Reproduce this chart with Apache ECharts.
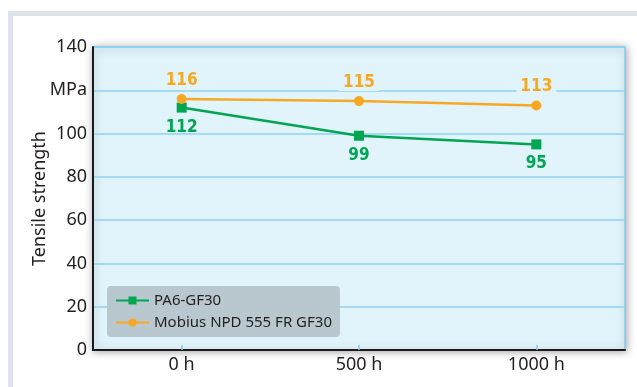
<!DOCTYPE html>
<html>
<head>
<meta charset="utf-8">
<script src="https://cdn.jsdelivr.net/npm/echarts@6/dist/echarts.min.js"></script>
<style>
  html, body { margin: 0; padding: 0; background: #fff; }
  #chart { width: 637px; height: 387px; }
</style>
</head>
<body>
<div id="chart"></div>
<script>
// Tensile strength after ageing, two compounds
const categories = ['0 h', '500 h', '1000 h'];
const pa6Values = [112, 99, 95];
const mobiusValues = [116, 115, 113];
const seriesNames = ['PA6-GF30', 'Mobius NPD 555 FR GF30'];
const yTicks = [0, 20, 40, 60, 80, 100, 120, 140];
const yUnitTick = 120; // this tick shows the unit instead of a number

const FONT = "'Noto Sans', 'DejaVu Sans', sans-serif";
const VALUE_FONT = "'Liberation Sans Narrow', 'DejaVu Sans Condensed', 'Roboto', sans-serif";
const PLOT_BG = '#e1f3fb';
const GREEN = '#00a551';
const ORANGE = '#f7a823';
const TEXT = '#231f20';

const chart = echarts.init(document.getElementById('chart'), null, { renderer: 'canvas' });

chart.setOption({
  animation: false,
  backgroundColor: '#ffffff',
  textStyle: { fontFamily: FONT },
  graphic: [{
    type: 'rect',
    z: -10,
    silent: true,
    shape: { x: 10.5, y: 13.5, width: 800, height: 600 },
    style: { fill: 'none', stroke: '#dde3e8', lineWidth: 5 }
  }],
  grid: {
    left: 93, right: 12, top: 47, bottom: 37,
    show: true,
    backgroundColor: PLOT_BG,
    borderColor: '#7fcdee',
    borderWidth: 1.5,
    shadowBlur: 8,
    shadowColor: 'rgba(0,0,0,0.35)',
    shadowOffsetX: 1,
    shadowOffsetY: 1
  },
  legend: {
    orient: 'vertical',
    left: 107,
    top: 286,
    backgroundColor: '#b9c7cf',
    borderRadius: 4,
    padding: [7, 8, 7, 8],
    itemGap: 7,
    itemWidth: 33,
    itemHeight: 10,
    data: seriesNames,
    textStyle: { fontFamily: FONT, fontSize: 15, color: TEXT }
  },
  xAxis: {
    type: 'category',
    data: categories,
    boundaryGap: true,
    axisLine: { lineStyle: { color: '#1a1a1a', width: 2 } },
    axisTick: { show: true, inside: true, alignWithLabel: true, length: 5,
                lineStyle: { color: '#7fcdee', width: 1.5 } },
    axisLabel: { fontFamily: FONT, fontSize: 18, color: TEXT, margin: 6 },
    splitLine: { show: false }
  },
  yAxis: {
    type: 'value',
    min: yTicks[0],
    max: yTicks[yTicks.length - 1],
    interval: yTicks[1] - yTicks[0],
    name: 'Tensile strength',
    nameLocation: 'middle',
    nameGap: 44,
    nameMoveOverlap: false,
    nameTextStyle: { fontFamily: FONT, fontSize: 18, color: TEXT },
    axisLine: { show: true, lineStyle: { color: '#1a1a1a', width: 2 } },
    axisTick: { show: false },
    axisLabel: {
      fontFamily: FONT, fontSize: 18, color: TEXT, margin: 6,
      formatter: v => (v === yUnitTick ? 'MPa' : String(v))
    },
    splitLine: { show: true, lineStyle: { color: '#8ed3f0', width: 1.5 } }
  },
  series: [
    {
      name: seriesNames[0],
      type: 'line',
      data: pa6Values,
      symbol: 'rect',
      symbolSize: 10,
      lineStyle: { color: GREEN, width: 2.5 },
      itemStyle: { color: GREEN },
      label: {
        show: true, position: 'bottom', distance: 6,
        fontFamily: VALUE_FONT, fontWeight: 'bold', fontSize: 17, color: GREEN
      },
      z: 3
    },
    {
      name: seriesNames[1],
      type: 'line',
      data: mobiusValues,
      symbol: 'circle',
      symbolSize: 10,
      lineStyle: { color: ORANGE, width: 2.5 },
      itemStyle: { color: ORANGE },
      label: {
        show: true, position: 'top', distance: 5,
        fontFamily: VALUE_FONT, fontWeight: 'bold', fontSize: 17, color: ORANGE,
        backgroundColor: PLOT_BG, padding: [1, 4, 0, 4]
      },
      z: 4
    }
  ]
});
</script>
</body>
</html>
